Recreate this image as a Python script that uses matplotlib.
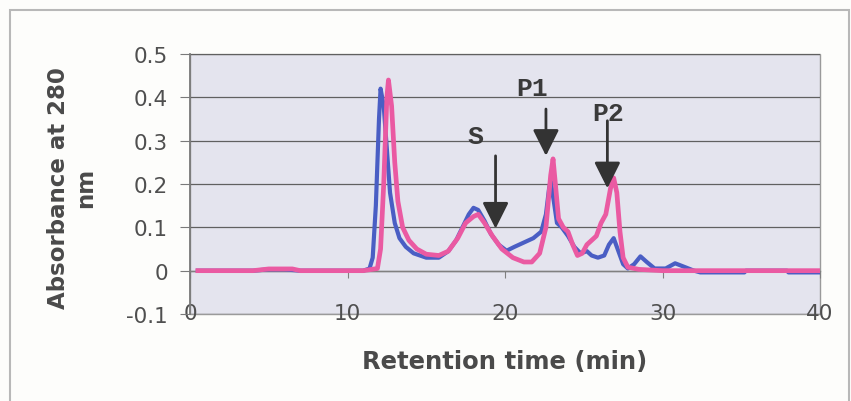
import matplotlib
matplotlib.use("Agg")
import matplotlib.pyplot as plt
from matplotlib.patches import Rectangle

# ---- data ----
blue_t = [0.5, 2, 4, 5, 6, 7, 9, 11, 11.4, 11.6, 11.8, 12.0, 12.1, 12.3, 12.5, 12.7, 13.0, 13.3,
          13.7, 14.2, 15.0, 15.8, 16.4, 16.9, 17.3, 17.7, 18.0, 18.3, 18.7, 19.1, 19.6, 20.1,
          20.6, 21.2, 21.8, 22.3, 22.6, 22.8, 22.9, 23.1, 23.3, 23.6, 24.0, 24.4, 24.8, 25.2,
          25.5, 25.9, 26.3, 26.6, 26.9, 27.2, 27.5, 27.8, 28.2, 28.6, 29.0, 29.5, 30.2, 30.8,
          31.3, 32.0, 32.4, 35.2, 35.3, 37.9, 38.0, 40.0]
blue_a = [0.0, 0.0, 0.0, 0.003, 0.003, 0.0, 0.0, 0.0, 0.005, 0.03, 0.15, 0.35, 0.42, 0.38, 0.28,
          0.18, 0.11, 0.075, 0.055, 0.04, 0.03, 0.03, 0.045, 0.07, 0.10, 0.13, 0.145, 0.14,
          0.115, 0.085, 0.06, 0.046, 0.055, 0.065, 0.075, 0.09, 0.13, 0.19, 0.207, 0.16, 0.11,
          0.10, 0.08, 0.055, 0.04, 0.045, 0.035, 0.03, 0.035, 0.06, 0.075, 0.045, 0.015, 0.005,
          0.015, 0.033, 0.02, 0.005, 0.005, 0.017, 0.01, 0.0, -0.004, -0.004, 0.0, 0.0, -0.004,
          -0.004]

pink_t = [0.5, 4, 5, 6.5, 7, 11, 11.9, 12.1, 12.3, 12.5, 12.6, 12.8, 13.0, 13.2, 13.5, 13.9,
          14.4, 15.0, 15.8, 16.4, 17.0, 17.5, 18.0, 18.3, 18.7, 19.2, 19.8, 20.5, 21.2, 21.7,
          22.2, 22.6, 22.9, 23.05, 23.2, 23.4, 23.7, 24.0, 24.3, 24.6, 24.9, 25.2, 25.5, 25.8,
          26.1, 26.4, 26.7, 26.9, 27.1, 27.3, 27.5, 27.8, 28.5, 30.0, 40.0]
pink_a = [0.0, 0.0, 0.004, 0.004, 0.0, 0.0, 0.005, 0.05, 0.20, 0.40, 0.44, 0.38, 0.25, 0.16,
          0.10, 0.07, 0.05, 0.038, 0.035, 0.045, 0.075, 0.11, 0.125, 0.13, 0.11, 0.08, 0.05,
          0.03, 0.02, 0.02, 0.04, 0.10, 0.22, 0.258, 0.20, 0.12, 0.10, 0.09, 0.06, 0.035, 0.04,
          0.06, 0.07, 0.08, 0.11, 0.13, 0.19, 0.214, 0.18, 0.09, 0.03, 0.008, 0.003, 0.0, 0.0]

x_ticks = [0, 10, 20, 30, 40]
y_ticks = [-0.1, 0, 0.1, 0.2, 0.3, 0.4, 0.5]
y_ticklabels = ["-0.1", "0", "0.1", "0.2", "0.3", "0.4", "0.5"]

peak_labels = ["S", "P1", "P2"]
label_pos = [(18.1, 0.311), (21.7, 0.422), (26.55, 0.364)]
arrow_x = [19.4, 22.6, 26.5]
arrow_top = [0.265, 0.373, 0.346]
arrow_tip = [0.097, 0.265, 0.19]

# ---- figure ----
W, H = 851, 402
fig = plt.figure(figsize=(W / 100, H / 100), dpi=100)
fig.patch.set_facecolor("#fdfdfb")

# outer chart frame
fig.patches.append(Rectangle((10 / W, -0.05), 839 / W, 1.05 - 11 / H,
                             transform=fig.transFigure, fill=False,
                             edgecolor="#b8b8b8", linewidth=1.5))

ax = fig.add_axes([190 / W, 1 - 315 / H, 630 / W, 260 / H])
ax.set_facecolor("#e4e4ee")
ax.patch.set_edgecolor("#9a9a9a")
ax.patch.set_linewidth(1.0)

ax.set_xlim(0, 40)
ax.set_ylim(-0.1, 0.5)

ax.grid(axis="y", color="#606060", linewidth=0.9)
ax.set_axisbelow(True)

ax.plot(blue_t, blue_a, color="#4a5ec4", lw=3.0, solid_joinstyle="round", zorder=3)
ax.plot(pink_t, pink_a, color="#ea5aa2", lw=3.4, solid_joinstyle="round", zorder=4)

for lab, (lx, ly), axx, top, tip in zip(peak_labels, label_pos, arrow_x, arrow_top, arrow_tip):
    ax.text(lx, ly, lab, family="Liberation Mono", fontweight="bold", fontsize=19,
            color="#3a3a3a", ha="center", va="center", zorder=6)
    ax.annotate("", xy=(axx, tip), xytext=(axx, top),
                arrowprops=dict(arrowstyle="-|>,head_length=0.8,head_width=0.4",
                                mutation_scale=20, color="#333333", lw=2.0,
                                shrinkA=0, shrinkB=0), zorder=7)

# spines
for s in ("top", "right"):
    ax.spines[s].set_visible(False)
ax.spines["left"].set_color("#7a7a7a")
ax.spines["left"].set_linewidth(1.3)
ax.spines["bottom"].set_position(("data", 0))
ax.spines["bottom"].set_color("#808080")
ax.spines["bottom"].set_linewidth(1.0)

ax.set_yticks(y_ticks)
ax.set_yticklabels(y_ticklabels)
ax.tick_params(axis="y", direction="out", length=7, color="#7a7a7a",
               labelsize=15.5, labelcolor="#4f4f4f", pad=9)
ax.set_xticks(x_ticks)
ax.tick_params(axis="x", direction="out", length=5, color="#808080", labelbottom=False)

sec = ax.secondary_xaxis("bottom")
sec.set_xticks(x_ticks)
sec.set_xticklabels([str(v) for v in x_ticks])
sec.tick_params(length=0, pad=-8, labelsize=15.5, labelcolor="#4f4f4f")
sec.spines["bottom"].set_visible(False)

fig.text(505 / W, 1 - 362 / H, "Retention time (min)", ha="center", va="center",
         fontsize=17.5, fontweight="bold", color="#4a4a4a")
fig.text(72 / W, 1 - 188 / H, "Absorbance at 280\nnm", ha="center", va="center",
         rotation=90, multialignment="center", fontsize=16.5, fontweight="bold",
         color="#4a4a4a", linespacing=1.25)

fig.savefig("out.png", dpi=100, facecolor=fig.get_facecolor())
